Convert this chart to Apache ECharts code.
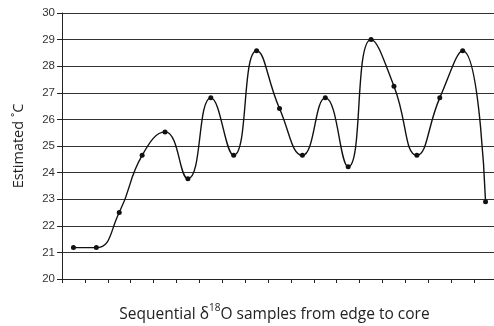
<!DOCTYPE html>
<html>
<head>
<meta charset="utf-8">
<script src="https://cdn.jsdelivr.net/npm/echarts@6/dist/echarts.min.js"></script>
<style>
  html, body { margin: 0; padding: 0; background: #fff; }
  #chart { width: 494px; height: 326px; }
</style>
</head>
<body>
<div id="chart"></div>
<script>
// sample index along the shell, edge to core
const samples = ['1', '2', '3', '4', '5', '6', '7', '8', '9', '10',
  '11', '12', '13', '14', '15', '16', '17', '18', '19'];
// estimated temperature per sample (°C)
const temps = [21.18, 21.18, 22.5, 24.65, 25.53, 23.77, 26.81, 24.65, 28.58, 26.41,
  24.65, 26.81, 24.22, 29.0, 27.25, 24.65, 26.81, 28.58, 22.9];

const chart = echarts.init(document.getElementById('chart'));

const option = {
  animation: false,
  grid: {
    left: 62,
    right: -3,
    top: 13,
    bottom: 47,
    outerBoundsMode: 'none',
    containLabel: false
  },
  xAxis: {
    type: 'category',
    data: samples,
    boundaryGap: true,
    name: '{a|Sequential δ}{s|18}{a|O samples from edge to core}',
    nameLocation: 'middle',
    nameGap: 24,
    nameTextStyle: {
      padding: [0, 10, 0, 0],
      rich: {
        a: { fontFamily: 'Open Sans', fontSize: 15.5, color: '#222', verticalAlign: 'bottom', lineHeight: 20 },
        s: { fontFamily: 'Open Sans', fontSize: 10, color: '#222', verticalAlign: 'top', lineHeight: 20, padding: [0, 0, 8, 0] }
      }
    },
    axisLine: { lineStyle: { color: '#222', width: 1 } },
    axisTick: { show: true, length: 4, lineStyle: { color: '#222' } },
    axisLabel: { show: false },
    splitLine: { show: false }
  },
  yAxis: {
    type: 'value',
    min: 20,
    max: 30,
    interval: 1,
    name: 'Estimated ˚C',
    nameLocation: 'middle',
    nameGap: 36,
    nameTextStyle: { fontFamily: 'Open Sans', fontSize: 14.5, color: '#222' },
    axisLine: { show: true, lineStyle: { color: '#222', width: 1 } },
    axisTick: { show: true, length: 5, lineStyle: { color: '#222' } },
    axisLabel: { fontFamily: 'Liberation Sans', fontSize: 11.5, color: '#333', margin: 7 },
    splitLine: { show: true, lineStyle: { color: '#333', width: 1 } }
  },
  series: [
    {
      type: 'line',
      data: temps,
      smooth: 0.5,
      symbol: 'circle',
      symbolSize: 5,
      itemStyle: { color: '#111' },
      lineStyle: { color: '#111', width: 1.4 }
    }
  ]
};

chart.setOption(option);
</script>
</body>
</html>
